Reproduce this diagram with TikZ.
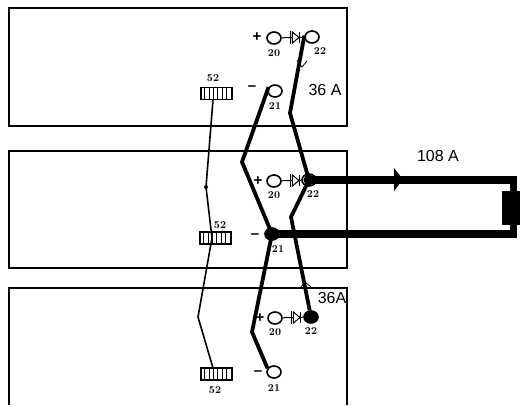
\documentclass[tikz,border=0pt]{standalone}
\usepackage{fontspec}
\setsansfont{Liberation Sans}
\usepackage{xcolor}
\usetikzlibrary{arrows,shapes.geometric}

\begin{document}
\begin{tikzpicture}[x=1pt,y=-1pt,line width=1.4pt,
    terminal/.style={draw,ellipse,minimum width=14pt,minimum height=12pt,inner sep=0pt,line width=1.6pt},
    diode/.style={draw,fill=white,isosceles triangle,isosceles triangle apex angle=80,minimum width=11pt,minimum height=6.5pt,inner sep=0pt,line width=1pt},
    num/.style={font=\rmfamily\bfseries\fontsize{10.5}{11}\selectfont,inner sep=0pt},
    sign/.style={font=\sffamily\bfseries\fontsize{15}{15}\selectfont,inner sep=0pt},
    amps/.style={font=\sffamily\fontsize{16}{16}\selectfont,inner sep=0pt},
    strip/.style={draw,minimum width=31pt,minimum height=12pt,inner sep=0pt},
    wire/.style={line width=3.8pt,line join=round},
    thin wire/.style={line width=1.6pt,line join=round},
    bus/.style={line width=7.4pt,line join=miter}]
  \useasboundingbox (0,0) rectangle (520,405);

  % panels
  \draw (9,126) rectangle (347,8);
  \draw (9,268) rectangle (347,151);
  \draw (9,405) -- (9,288) -- (347,288) -- (347,405);

  % terminals
  \node[terminal]           (t20) at (274,38)  {};
  \node[terminal]           (t22) at (312,37)  {};
  \node[terminal]           (t21) at (275,91)  {};
  \node[terminal]           (m20) at (274,181) {};
  \node[terminal]           (m22) at (309,180) {};
  \node[terminal,fill=black] (m21) at (272,234) {};
  \node[terminal]           (b20) at (275,318) {};
  \node[terminal,fill=black] (b22) at (311,317) {};
  \node[terminal]           (b21) at (274,372) {};

  % diodes
  \foreach \p in {t,m,b}{
    \draw[line width=1pt] (\p20) -- (\p22);
  }
  \node[diode] (td) at (295,37.5)  {};
  \node[diode] (md) at (295,180.5) {};
  \node[diode] (bd) at (296,317.5) {};
  \foreach \p in {t,m,b}{
    \draw[line width=1pt] ([xshift=-1.5pt]\p d.left corner) -- ([xshift=-1.5pt]\p d.right corner);
    \draw[line width=1pt] ([yshift=-5.5pt]\p d.apex) -- ([yshift=5.5pt]\p d.apex);
  }

  % strips
  \node[strip] (t52) at (216.5,93.5)  {};
  \node[strip] (m52) at (215.5,238)   {};
  \node[strip] (b52) at (216.5,374)   {};
  \foreach \p in {t,m,b}{
    \foreach \i in {1,...,6}{
      \draw[line width=1pt] ([xshift=\i*4.4pt]\p52.north west) -- ([xshift=\i*4.4pt]\p52.south west);
    }
  }

  % bends
  \coordinate (k1) at (242,162);
  \coordinate (k2) at (290,113);
  \coordinate (k3) at (291,217);
  \coordinate (k4) at (252,332);
  \coordinate (k5) at (206,187);
  \coordinate (k6) at (198,317);
  \coordinate (m52c) at (212,238);
  \coordinate (t52c) at (213,100);
  \coordinate (b52c) at (213,368);

  % cables
  \draw[thin wire] (t52c) -- (k5) -- (m52c) -- (k6) -- (b52c);
  \fill (k5) circle (2pt);
  \draw[wire] (t21.150) -- (k1) -- (m21.center);
  \draw[wire] (t22.170) -- (k2) -- (m22.center);
  \draw[wire] (m22.center) -- (k3) -- (b22);
  \draw[wire] (m21.center) -- (k4) -- (b21.150);

  % output loop
  \coordinate (r1) at (513.5,180);
  \coordinate (r2) at (513.5,234);
  \draw[bus] (m22.center) -- (r1) -- (r2) -- (m21.center);
  \fill (m22) circle (5.5pt);
  \fill (m21) circle (5.5pt);
  \node[draw,fill=black,minimum width=17pt,minimum height=32pt,inner sep=0pt] (shunt) at (511.5,208) {};
  \coordinate (tip) at (403,179.5);
  \fill (tip) -- (394,168) -- (394,191) -- cycle;

  % current marks
  \coordinate (a1) at (302,67);
  \coordinate (a2) at (305,282);
  \draw[line width=0.8pt] (297,60) -- (a1) -- (307,61);
  \draw[line width=0.8pt] (300,288) -- (a2) -- (311,287);

  % signs
  \node[sign] (tp) at (257,37)  {+};
  \node[sign] (tm) at (252,88)  {--};
  \node[sign] (mp) at (258,181) {+};
  \node[sign] (mm) at (255,236) {--};
  \node[sign] (bp) at (260,318) {+};
  \node[sign] (bm) at (258,373) {--};

  % numbers
  \node[num] (l1) at (274,53)  {20};
  \node[num] (l2) at (320,51)  {22};
  \node[num] (l3) at (275,106) {21};
  \node[num] (l4) at (213,78)  {52};
  \node[num] (l5) at (274,195) {20};
  \node[num] (l6) at (313,194) {22};
  \node[num] (l7) at (220,225) {52};
  \node[num] (l8) at (278,249) {21};
  \node[num] (l9) at (275,332) {20};
  \node[num] (l10) at (311,331) {22};
  \node[num] (l11) at (274,388) {21};
  \node[num] (l12) at (215,390) {52};

  % currents
  \node[amps] (i1) at (325,90)  {36 A};
  \node[amps] (i2) at (332,298) {36A};
  \node[amps] (i3) at (438,156) {108 A};
\end{tikzpicture}
\end{document}
